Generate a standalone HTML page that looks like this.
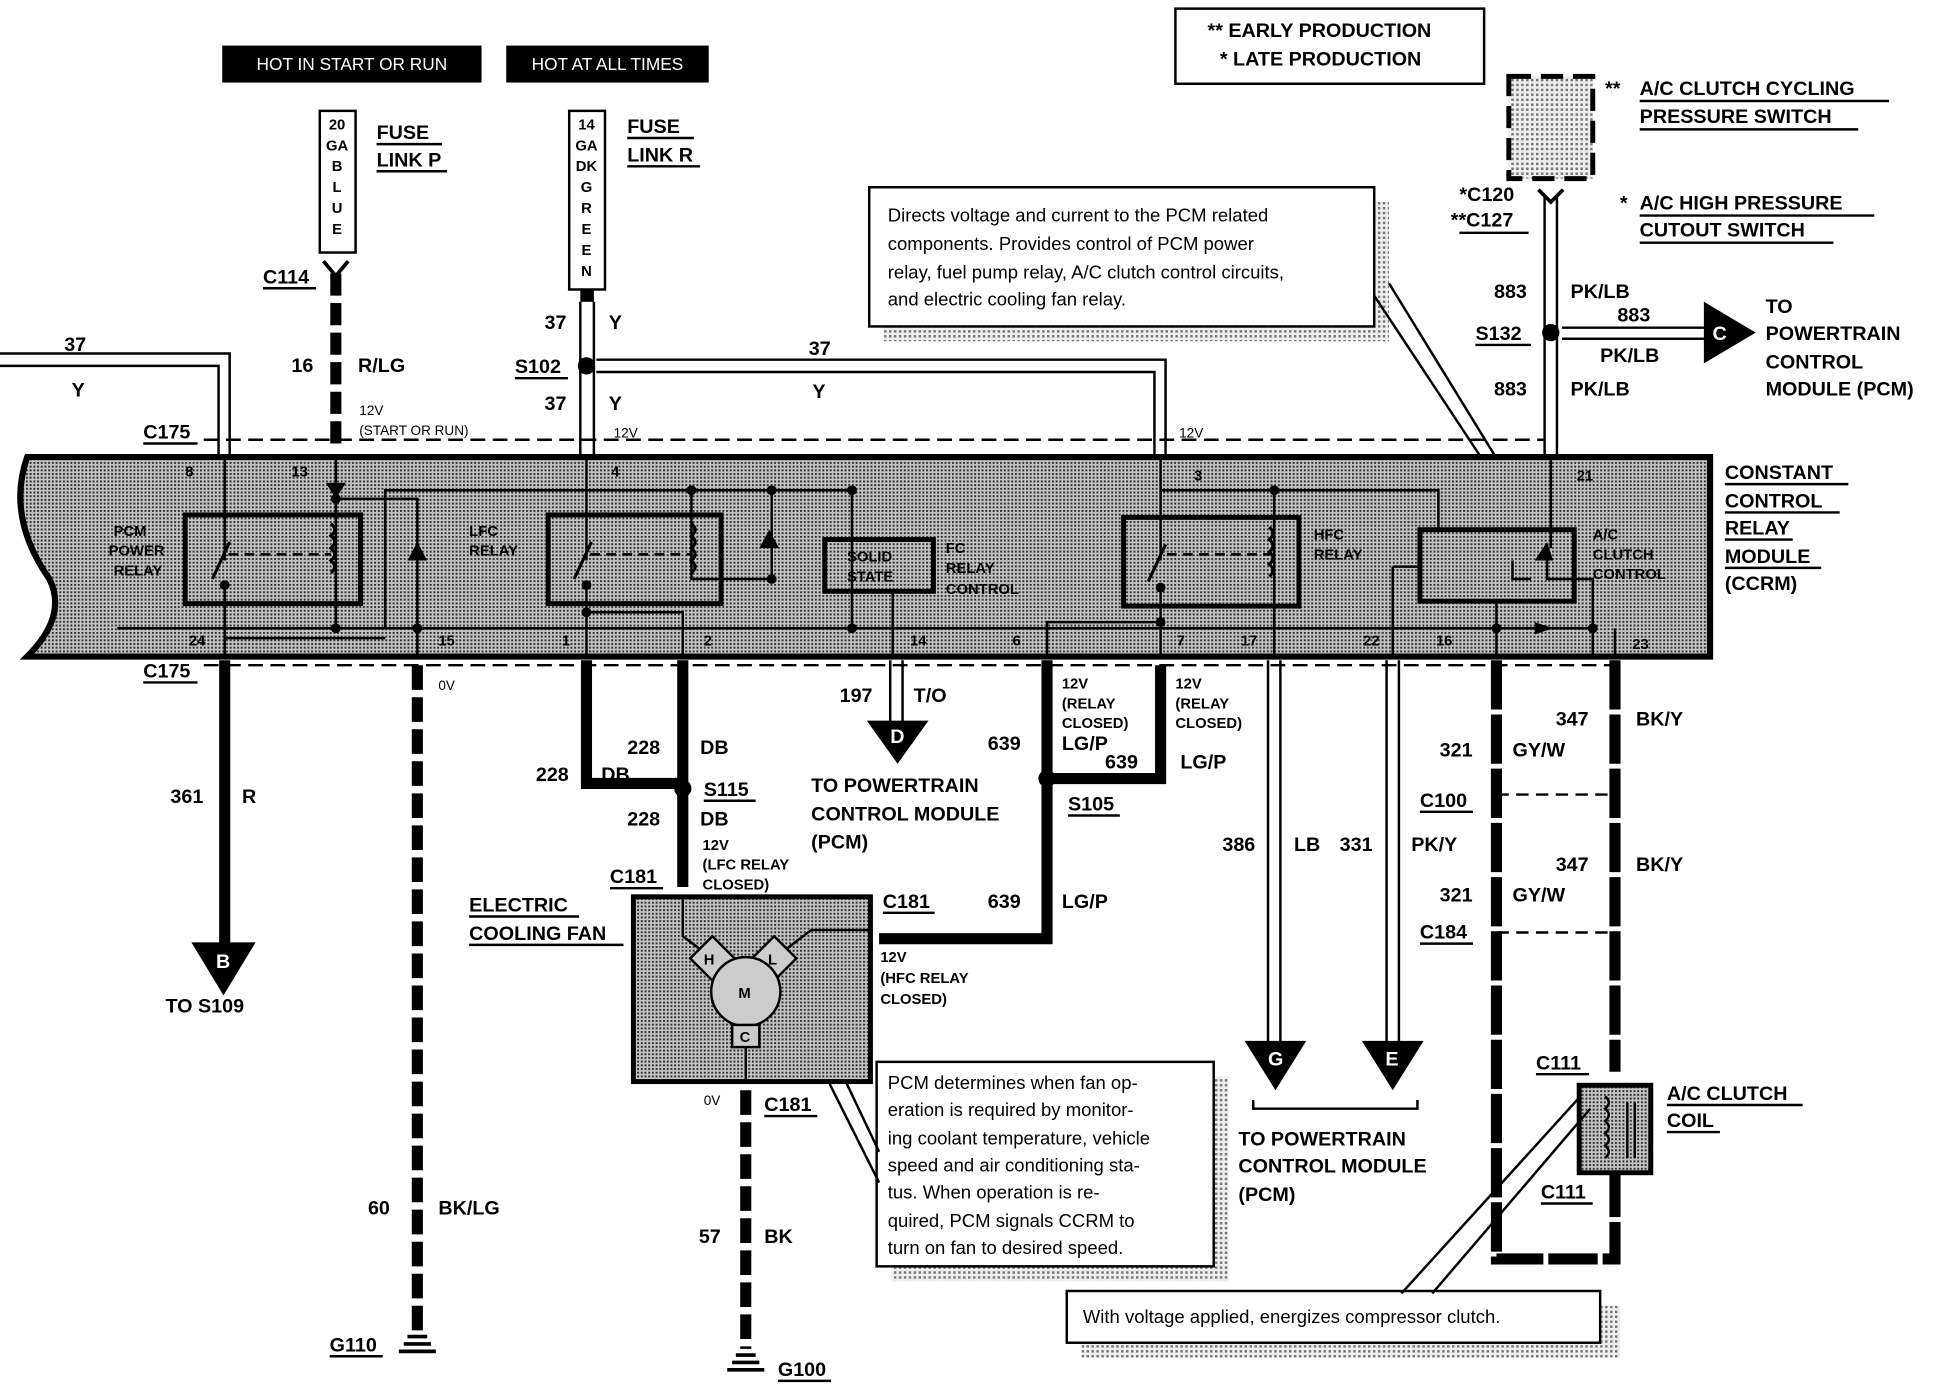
<!DOCTYPE html>
<html><head><meta charset="utf-8"><style>
html,body{margin:0;padding:0;background:#fff;width:1936px;height:1392px;overflow:hidden}
svg text{font-family:"Liberation Sans",sans-serif;font-weight:bold;fill:#000}
</style></head><body>
<svg width="1936" height="1392" viewBox="0 0 1568 1130" preserveAspectRatio="none" xmlns="http://www.w3.org/2000/svg">
<defs>
<pattern id="dots" width="3" height="3" patternUnits="userSpaceOnUse">
<rect width="3" height="3" fill="#c4c4c4"/><rect width="1.6" height="1.6" fill="#333"/>
</pattern>
<pattern id="sh" width="4" height="4" patternUnits="userSpaceOnUse">
<rect width="4" height="4" fill="#eee"/><rect width="2" height="2" fill="#777"/>
</pattern>
</defs>
<g font-size="16">
<!-- top boxes -->
<rect x="180" y="37" width="210" height="30" fill="#000"/>
<text x="285" y="57" font-size="14" style="fill:#fff;font-weight:normal" text-anchor="middle">HOT IN  START OR RUN</text>
<rect x="410" y="37" width="164" height="30" fill="#000"/>
<text x="492" y="57" font-size="14" style="fill:#fff;font-weight:normal" text-anchor="middle">HOT AT ALL TIMES</text>
<rect x="952" y="7" width="250" height="61" fill="#fff" stroke="#000" stroke-width="2"/>
<text x="978" y="30">** EARLY PRODUCTION</text>
<text x="988" y="53">* LATE PRODUCTION</text>

<!-- fuse links -->
<rect x="259" y="90" width="29" height="115" fill="#fff" stroke="#000" stroke-width="2"/>
<g font-size="12" text-anchor="middle"><text x="273" y="105">20</text><text x="273" y="122">GA</text><text x="273" y="139">B</text><text x="273" y="156">L</text><text x="273" y="173">U</text><text x="273" y="190">E</text></g>
<text x="305" y="113">FUSE</text><text x="305" y="135">LINK P</text>
<line x1="305" y1="117" x2="358" y2="117" stroke="#000" stroke-width="2"/><line x1="305" y1="139" x2="362" y2="139" stroke="#000" stroke-width="2"/>
<rect x="461" y="90" width="29" height="145" fill="#fff" stroke="#000" stroke-width="2"/>
<g font-size="12" text-anchor="middle"><text x="475" y="105">14</text><text x="475" y="122">GA</text><text x="475" y="139">DK</text><text x="475" y="156">G</text><text x="475" y="173">R</text><text x="475" y="190">E</text><text x="475" y="207">E</text><text x="475" y="224">N</text></g>
<text x="508" y="108">FUSE</text><text x="508" y="131">LINK R</text>
<line x1="508" y1="112" x2="562" y2="112" stroke="#000" stroke-width="2"/><line x1="508" y1="135" x2="567" y2="135" stroke="#000" stroke-width="2"/>

<!-- C114 wire -->
<text x="213" y="230">C114</text><line x1="213" y1="234" x2="256" y2="234" stroke="#000" stroke-width="2"/>
<path d="M262 212 L272 224 L282 212" fill="none" stroke="#000" stroke-width="3"/>
<line x1="272" y1="222" x2="272" y2="366" stroke="#000" stroke-width="9" stroke-dasharray="18 6"/>
<text x="236" y="302">16</text><text x="290" y="302">R/LG</text>
<text x="291" y="337" font-size="11" style="font-weight:normal">12V</text><text x="291" y="353" font-size="11" style="font-weight:normal">(START OR RUN)</text>

<!-- R wire -->
<rect x="470" y="235" width="11" height="10" fill="#000"/>
<line x1="470" y1="245" x2="470" y2="372" stroke="#000" stroke-width="2"/><line x1="481" y1="245" x2="481" y2="372" stroke="#000" stroke-width="2"/>
<circle cx="475" cy="297" r="7" fill="#000"/>
<text x="441" y="267">37</text><text x="493" y="267">Y</text>
<text x="417" y="303">S102</text><line x1="417" y1="307" x2="460" y2="307" stroke="#000" stroke-width="2"/>
<text x="441" y="333">37</text><text x="493" y="333">Y</text>
<text x="497" y="355" font-size="11" style="font-weight:normal">12V</text>
<path d="M483 292 H944 V372 M483 302 H935 V372" fill="none" stroke="#000" stroke-width="2"/>
<text x="655" y="288">37</text><text x="658" y="323">Y</text><text x="955" y="355" font-size="11" style="font-weight:normal">12V</text>
<path d="M0 287 H186 V372 M0 297 H177 V372" fill="none" stroke="#000" stroke-width="2"/>
<text x="52" y="285">37</text><text x="58" y="322">Y</text>
<text x="116" y="356">C175</text><line x1="116" y1="360" x2="160" y2="360" stroke="#000" stroke-width="2"/>
<line x1="165" y1="357" x2="1250" y2="357" stroke="#000" stroke-width="2" stroke-dasharray="12 6"/>

<!-- right switch -->
<rect x="1222" y="62" width="68" height="83" fill="url(#sh)" stroke="#000" stroke-width="4" stroke-dasharray="18 8"/>
<text x="1300" y="77">**</text><text x="1328" y="77">A/C CLUTCH CYCLING</text><line x1="1328" y1="82" x2="1530" y2="82" stroke="#000" stroke-width="2"/>
<text x="1328" y="100">PRESSURE SWITCH</text><line x1="1328" y1="105" x2="1505" y2="105" stroke="#000" stroke-width="2"/>
<text x="1182" y="163">*C120</text><text x="1175" y="184">**C127</text><line x1="1182" y1="189" x2="1238" y2="189" stroke="#000" stroke-width="2"/>
<path d="M1246 154 L1256 164 L1266 154" fill="none" stroke="#000" stroke-width="3"/>
<text x="1312" y="170">*</text><text x="1328" y="170">A/C HIGH PRESSURE</text><line x1="1328" y1="175" x2="1518" y2="175" stroke="#000" stroke-width="2"/>
<text x="1328" y="192">CUTOUT SWITCH</text><line x1="1328" y1="197" x2="1485" y2="197" stroke="#000" stroke-width="2"/>
<line x1="1251" y1="160" x2="1251" y2="372" stroke="#000" stroke-width="2"/><line x1="1261" y1="160" x2="1261" y2="372" stroke="#000" stroke-width="2"/>
<circle cx="1256" cy="270" r="7" fill="#000"/>
<text x="1210" y="242">883</text><text x="1272" y="242">PK/LB</text>
<text x="1195" y="276">S132</text><line x1="1195" y1="280" x2="1240" y2="280" stroke="#000" stroke-width="2"/>
<path d="M1265 266 H1385 M1265 275 H1385" stroke="#000" stroke-width="2"/>
<text x="1310" y="261">883</text><text x="1296" y="294">PK/LB</text>
<path d="M1380 245 L1422 270 L1380 295 Z" fill="#000"/><text x="1387" y="276" style="fill:#fff">C</text>
<text x="1430" y="254">TO</text><text x="1430" y="276">POWERTRAIN</text><text x="1430" y="299">CONTROL</text><text x="1430" y="321">MODULE (PCM)</text>
<text x="1210" y="321">883</text><text x="1272" y="321">PK/LB</text>

<!-- callout 1 -->
<rect x="716" y="164" width="409" height="113" fill="url(#sh)"/>
<rect x="704" y="152" width="409" height="113" fill="#fff" stroke="#000" stroke-width="2"/>
<g font-size="15"><text x="719" y="180" style="font-weight:normal">Directs voltage and current to the PCM related</text><text x="719" y="203" style="font-weight:normal">components. Provides control of PCM power</text><text x="719" y="226" style="font-weight:normal">relay, fuel pump relay, A/C clutch control circuits,</text><text x="719" y="248" style="font-weight:normal">and electric cooling fan relay.</text></g>
<path d="M1113 240 L1200 372 M1125 230 L1212 372" stroke="#000" stroke-width="2"/>

<!-- module -->
<path d="M22 371 H1385 V533 H22 Q55 500 40 470 Q5 420 22 371 Z" fill="url(#dots)" stroke="#000" stroke-width="5"/>
<text x="1397" y="389">CONSTANT</text><text x="1397" y="412">CONTROL</text><text x="1397" y="434">RELAY</text><text x="1397" y="457">MODULE</text><text x="1397" y="479">(CCRM)</text>
<g stroke="#000" stroke-width="2"><line x1="1397" y1="393" x2="1497" y2="393"/><line x1="1397" y1="416" x2="1490" y2="416"/><line x1="1397" y1="438" x2="1452" y2="438"/><line x1="1397" y1="461" x2="1475" y2="461"/></g>
<g fill="none" stroke="#000" stroke-width="2">
<path d="M95 510 H1290"/>
<path d="M182 372 V455 M182 475 V533 M272 372 V510 M475 372 V455 M475 475 V533 M940 372 V455 M940 477 V533 M1256 372 V445"/>
<path d="M272 405 H338 V533 M312 510 V398 H690 V510 M560 398 V470 H625 V398 M182 518 H312"/>
<path d="M475 497 H553 V533 M1032 398 V533 M940 398 H1165 V432 M1128 460 H1150 M1128 460 V533 M848 533 V505 H940"/>
<path d="M723 480 V533 M1212 488 V533 M1253 455 V470 H1290 V533 M1308 510 V533 M1240 470 H1225 V455"/>
</g>
<!-- switches -->
<g stroke="#000" stroke-width="2.5" fill="none">
<path d="M172 470 L186 440 M465 470 L479 440 M930 472 L944 442"/>
<path d="M268 425 q6 5 0 10 q6 5 0 10 q6 5 0 10 q6 5 0 10 M560 425 q6 5 0 10 q6 5 0 10 q6 5 0 10 q6 5 0 10 M1028 428 q6 5 0 10 q6 5 0 10 q6 5 0 10 q6 5 0 10"/>
</g>
<g fill="none" stroke="#000" stroke-width="4">
<rect x="150" y="418" width="142" height="72"/><rect x="444" y="418" width="140" height="72"/>
<rect x="668" y="438" width="88" height="42"/><rect x="910" y="420" width="142" height="72"/>
<rect x="1150" y="430" width="125" height="58"/>
</g>
<g stroke="#000" stroke-width="2" stroke-dasharray="8 5"><line x1="185" y1="450" x2="268" y2="450"/><line x1="478" y1="450" x2="560" y2="450"/><line x1="945" y1="450" x2="1030" y2="450"/></g>
<path d="M330 455 L338 440 L346 455 Z M615 445 L623 430 L631 445 Z M264 392 L272 405 L280 392 Z M1243 455 L1253 440 L1258 455 Z M1243 505 L1258 510 L1243 515 Z" fill="#000"/>
<g fill="#000"><circle cx="272" cy="405" r="4"/><circle cx="272" cy="510" r="4"/><circle cx="338" cy="510" r="4"/><circle cx="475" cy="497" r="4"/><circle cx="560" cy="398" r="4"/><circle cx="625" cy="398" r="4"/><circle cx="625" cy="470" r="4"/><circle cx="690" cy="398" r="4"/><circle cx="690" cy="510" r="4"/><circle cx="1032" cy="398" r="4"/><circle cx="940" cy="505" r="4"/><circle cx="1212" cy="510" r="4"/><circle cx="1290" cy="510" r="4"/><circle cx="182" cy="475" r="4"/><circle cx="475" cy="475" r="4"/><circle cx="940" cy="477" r="4"/></g>
<g font-size="12"><text x="92" y="435">PCM</text><text x="88" y="451">POWER</text><text x="92" y="467">RELAY</text><text x="380" y="435">LFC</text><text x="380" y="451">RELAY</text>
<text x="686" y="456">SOLID</text><text x="686" y="472">STATE</text><text x="766" y="449">FC</text><text x="766" y="465">RELAY</text><text x="766" y="482">CONTROL</text>
<text x="1064" y="438">HFC</text><text x="1064" y="454">RELAY</text><text x="1290" y="438">A/C</text><text x="1290" y="454">CLUTCH</text><text x="1290" y="470">CONTROL</text>
<text x="150" y="387">8</text><text x="236" y="387">13</text><text x="495" y="387">4</text><text x="967" y="390">3</text><text x="1277" y="390">21</text>
<text x="153" y="524">24</text><text x="355" y="524">15</text><text x="455" y="524">1</text><text x="570" y="524">2</text><text x="737" y="524">14</text><text x="820" y="524">6</text><text x="953" y="524">7</text><text x="1005" y="524">17</text><text x="1104" y="524">22</text><text x="1163" y="524">16</text><text x="1322" y="527">23</text></g>

<!-- bottom dashed -->
<line x1="165" y1="540" x2="1310" y2="540" stroke="#000" stroke-width="2" stroke-dasharray="12 6"/>
<text x="116" y="550">C175</text><line x1="116" y1="554" x2="160" y2="554" stroke="#000" stroke-width="2"/>
<line x1="182" y1="536" x2="182" y2="770" stroke="#000" stroke-width="9"/>
<path d="M155 765 L207 765 L181 808 Z" fill="#000"/><text x="175" y="786" style="fill:#fff">B</text>
<text x="138" y="652">361</text><text x="196" y="652">R</text><text x="134" y="822">TO S109</text>
<line x1="338" y1="540" x2="338" y2="1080" stroke="#000" stroke-width="9" stroke-dasharray="20 6"/>
<text x="355" y="560" font-size="11" style="font-weight:normal">0V</text>
<text x="298" y="986">60</text><text x="355" y="986">BK/LG</text>
<path d="M330 1085 H346 M327 1091 H349 M323 1097 H353" stroke="#000" stroke-width="3"/>
<text x="267" y="1097">G110</text><line x1="267" y1="1101" x2="310" y2="1101" stroke="#000" stroke-width="2"/>
<path d="M475 536 V636 H553 M553 536 V720" fill="none" stroke="#000" stroke-width="9"/>
<circle cx="553" cy="640" r="7" fill="#000"/>
<text x="508" y="612">228</text><text x="567" y="612">DB</text><text x="434" y="634">228</text><text x="487" y="634">DB</text>
<text x="570" y="646">S115</text><line x1="570" y1="650" x2="612" y2="650" stroke="#000" stroke-width="2"/>
<text x="508" y="670">228</text><text x="567" y="670">DB</text>
<g font-size="12" style="font-weight:normal"><text x="569" y="690">12V</text><text x="569" y="706">(LFC RELAY</text><text x="569" y="722">CLOSED)</text></g>
<text x="494" y="717">C181</text><line x1="494" y1="721" x2="537" y2="721" stroke="#000" stroke-width="2"/>
<text x="380" y="740">ELECTRIC</text><text x="380" y="763">COOLING FAN</text>
<line x1="380" y1="744" x2="469" y2="744" stroke="#000" stroke-width="2"/><line x1="380" y1="767" x2="505" y2="767" stroke="#000" stroke-width="2"/>
<rect x="513" y="728" width="192" height="150" fill="url(#dots)" stroke="#000" stroke-width="4"/>
<g fill="#ccc" stroke="#000" stroke-width="2">
<path d="M553 730 V760 L577 778 M705 755 H657 L627 778" fill="none"/>
<path d="M577 760 L595 778 L577 796 L559 778 Z"/><path d="M627 760 L645 778 L627 796 L609 778 Z"/>
<circle cx="604" cy="805" r="28"/><rect x="593" y="832" width="22" height="18"/>
<line x1="604" y1="850" x2="604" y2="880"/></g>
<text x="570" y="783" font-size="12">H</text><text x="622" y="783" font-size="12">L</text><text x="598" y="810" font-size="12">M</text><text x="599" y="846" font-size="12">C</text>
<path d="M721 536 V590 M731 536 V590" stroke="#000" stroke-width="2"/>
<path d="M702 585 L752 585 L727 620 Z" fill="#000"/><text x="721" y="603" style="fill:#fff">D</text>
<text x="680" y="570">197</text><text x="740" y="570">T/O</text>
<text x="657" y="643">TO POWERTRAIN</text><text x="657" y="666">CONTROL MODULE</text><text x="657" y="689">(PCM)</text>
<path d="M848 536 V762 H712 M940 540 V632 H848" fill="none" stroke="#000" stroke-width="9"/>
<circle cx="848" cy="632" r="7" fill="#000"/>
<g font-size="12" style="font-weight:normal"><text x="860" y="559">12V</text><text x="860" y="575">(RELAY</text><text x="860" y="591">CLOSED)</text><text x="952" y="559">12V</text><text x="952" y="575">(RELAY</text><text x="952" y="591">CLOSED)</text></g>
<text x="800" y="609">639</text><text x="860" y="609">LG/P</text><text x="895" y="624">639</text><text x="956" y="624">LG/P</text>
<text x="865" y="658">S105</text><line x1="865" y1="662" x2="907" y2="662" stroke="#000" stroke-width="2"/>
<text x="715" y="737">C181</text><line x1="715" y1="741" x2="757" y2="741" stroke="#000" stroke-width="2"/>
<text x="800" y="737">639</text><text x="860" y="737">LG/P</text>
<g font-size="12" style="font-weight:normal"><text x="713" y="781">12V</text><text x="713" y="798">(HFC RELAY</text><text x="713" y="815">CLOSED)</text></g>
<text x="570" y="897" font-size="11" style="font-weight:normal">0V</text>
<text x="619" y="902">C181</text><line x1="619" y1="906" x2="662" y2="906" stroke="#000" stroke-width="2"/>
<line x1="604" y1="885" x2="604" y2="1095" stroke="#000" stroke-width="9" stroke-dasharray="20 6"/>
<text x="566" y="1009">57</text><text x="619" y="1009">BK</text>
<path d="M596 1100 H612 M593 1106 H615 M589 1112 H619" stroke="#000" stroke-width="3"/>
<text x="630" y="1117">G100</text><line x1="630" y1="1121" x2="673" y2="1121" stroke="#000" stroke-width="2"/>
<rect x="722" y="874" width="273" height="166" fill="url(#sh)"/>
<rect x="710" y="862" width="273" height="166" fill="#fff" stroke="#000" stroke-width="2"/>
<g font-size="15"><text x="719" y="884" style="font-weight:normal">PCM determines when fan op-</text><text x="719" y="906" style="font-weight:normal">eration is required by monitor-</text><text x="719" y="929" style="font-weight:normal">ing coolant temperature, vehicle</text><text x="719" y="951" style="font-weight:normal">speed and air conditioning sta-</text><text x="719" y="973" style="font-weight:normal">tus.  When operation is re-</text><text x="719" y="996" style="font-weight:normal">quired, PCM signals CCRM to</text><text x="719" y="1018" style="font-weight:normal">turn on fan to desired speed.</text></g>
<path d="M672 880 L712 960 M685 878 L712 935" stroke="#000" stroke-width="2"/>
<path d="M1027 536 V850 M1037 536 V850 M1123 536 V850 M1133 536 V850" stroke="#000" stroke-width="2"/>
<path d="M1008 845 L1058 845 L1033 885 Z M1103 845 L1153 845 L1128 885 Z" fill="#000"/>
<text x="1027" y="865" style="fill:#fff">G</text><text x="1122" y="865" style="fill:#fff">E</text>
<text x="990" y="691">386</text><text x="1048" y="691">LB</text><text x="1085" y="691">331</text><text x="1143" y="691">PK/Y</text>
<path d="M1015 893 V900 H1148 V893" fill="none" stroke="#000" stroke-width="2"/>
<text x="1003" y="930">TO POWERTRAIN</text><text x="1003" y="952">CONTROL MODULE</text><text x="1003" y="975">(PCM)</text>
<path d="M1212 536 V1022 H1308 V952 M1308 536 V870" fill="none" stroke="#000" stroke-width="9" stroke-dasharray="40 4"/>
<line x1="1212" y1="645" x2="1308" y2="645" stroke="#000" stroke-width="2" stroke-dasharray="10 6"/>
<line x1="1212" y1="757" x2="1308" y2="757" stroke="#000" stroke-width="2" stroke-dasharray="10 6"/>
<text x="1260" y="589">347</text><text x="1325" y="589">BK/Y</text><text x="1166" y="614">321</text><text x="1225" y="614">GY/W</text>
<text x="1150" y="655">C100</text><line x1="1150" y1="659" x2="1193" y2="659" stroke="#000" stroke-width="2"/>
<text x="1260" y="707">347</text><text x="1325" y="707">BK/Y</text><text x="1166" y="732">321</text><text x="1225" y="732">GY/W</text>
<text x="1150" y="762">C184</text><line x1="1150" y1="766" x2="1193" y2="766" stroke="#000" stroke-width="2"/>
<text x="1244" y="868">C111</text><line x1="1244" y1="872" x2="1287" y2="872" stroke="#000" stroke-width="2"/>
<rect x="1279" y="881" width="58" height="71" fill="url(#dots)" stroke="#000" stroke-width="4"/>
<path d="M1300 890 q6 5 0 10 q6 5 0 10 q6 5 0 10 q6 5 0 10 q6 5 0 10 M1318 895 V940 M1324 895 V940" fill="none" stroke="#000" stroke-width="2"/>
<text x="1248" y="973">C111</text><line x1="1248" y1="977" x2="1290" y2="977" stroke="#000" stroke-width="2"/>
<text x="1350" y="893">A/C CLUTCH</text><text x="1350" y="915">COIL</text>
<line x1="1350" y1="897" x2="1460" y2="897" stroke="#000" stroke-width="2"/><line x1="1350" y1="919" x2="1393" y2="919" stroke="#000" stroke-width="2"/>
<rect x="876" y="1060" width="436" height="42" fill="url(#sh)"/>
<rect x="864" y="1048" width="432" height="42" fill="#fff" stroke="#000" stroke-width="2"/>
<text x="877" y="1074" font-size="15" style="font-weight:normal">With voltage applied, energizes compressor clutch.</text>
<path d="M1135 1050 L1280 890 M1160 1050 L1288 900" stroke="#000" stroke-width="2"/>
</g>
</svg>
</body></html>
